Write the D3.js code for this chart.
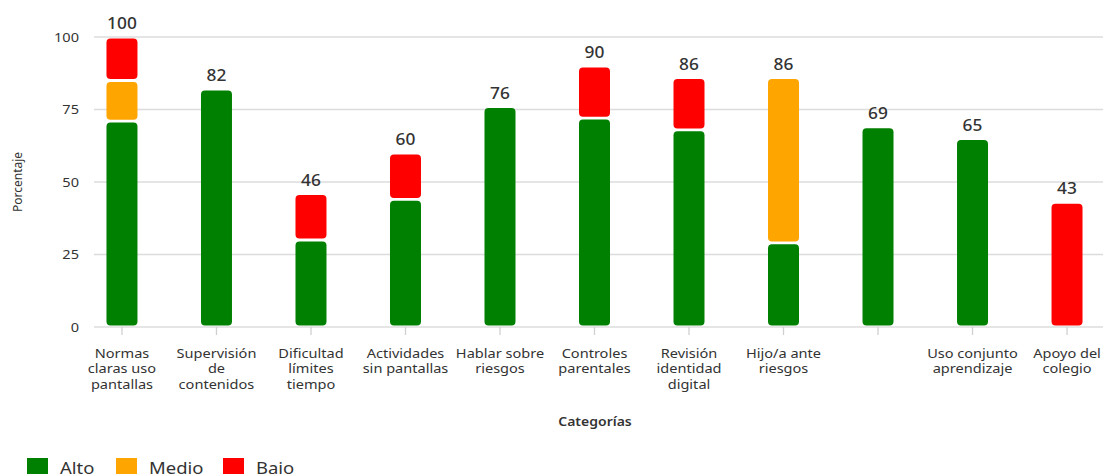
<!DOCTYPE html>
<html>
<head>
<meta charset="utf-8">
<script src="https://cdn.jsdelivr.net/npm/d3@7"></script>
<style>
  html, body { margin: 0; padding: 0; background: #fff; overflow: hidden; }
  svg { display: block; font-family: "Noto Sans", "Open Sans", sans-serif; }
</style>
</head>
<body>
<svg id="chart" width="1103" height="474"></svg>
<script>
const categories = [
  ["Normas", "claras uso", "pantallas"],
  ["Supervisión", "de", "contenidos"],
  ["Dificultad", "límites", "tiempo"],
  ["Actividades", "sin pantallas"],
  ["Hablar sobre", "riesgos"],
  ["Controles", "parentales"],
  ["Revisión", "identidad", "digital"],
  ["Hijo/a ante", "riesgos"],
  [""],
  ["Uso conjunto", "aprendizaje"],
  ["Apoyo del", "colegio"]
];
const alto  = [71, 82, 30, 44, 76, 72, 68, 29, 69, 65, 0];
const medio = [14, 0, 0, 0, 0, 0, 0, 57, 0, 0, 0];
const bajo  = [15, 0, 16, 16, 0, 18, 18, 0, 0, 0, 43];
const seriesNames = ["Alto", "Medio", "Bajo"];
const seriesColors = ["#008000", "#FFA500", "#FF0000"];
const yTicks = [0, 25, 50, 75, 100];

const W = 1103, H = 474;
const svg = d3.select("#chart");
const plotLeft = 94, plotRight = 1103;
const sx = 1.12; // horizontal stretch of text, as in the reference

const rows = categories.map((c, i) => ({ key: i, Alto: alto[i], Medio: medio[i], Bajo: bajo[i] }));
const stack = d3.stack().keys(seriesNames)(rows);

const x = d3.scaleBand()
  .domain(d3.range(categories.length))
  .range([plotLeft, 1095])
  .paddingInner(0.672)
  .paddingOuter(0.132);
const y = d3.scaleLinear().domain([0, 100]).range([327, 37]);

// gridlines
svg.append("g").selectAll("line").data(yTicks).join("line")
  .attr("x1", plotLeft).attr("x2", plotRight)
  .attr("y1", d => y(d)).attr("y2", d => y(d))
  .attr("stroke", "#dcdcdc").attr("stroke-width", 1.3);

// y axis labels
const yAxis = svg.append("g").attr("transform", `translate(${plotLeft},0)`)
  .call(d3.axisLeft(y).tickValues(yTicks).tickSize(0).tickPadding(15));
yAxis.select(".domain").remove();
yAxis.selectAll(".tick text").attr("font-size", 13).attr("fill", "#333")
  .attr("font-family", "Noto Sans, sans-serif")
  .attr("transform", function() { return `scale(${sx},1)`; })
  .attr("x", -15 / sx);

// x axis ticks
const xAxis = svg.append("g").attr("transform", `translate(0,${y(0)})`)
  .call(d3.axisBottom(x).tickSize(8).tickFormat(""));
xAxis.select(".domain").remove();
xAxis.selectAll("line").attr("stroke", "#d0d0d0").attr("stroke-width", 1.3);

// category labels
const catG = svg.append("g");
categories.forEach((lines, i) => {
  const cx = x(i) + x.bandwidth() / 2;
  const g = catG.append("g").attr("transform", `translate(${cx},358) scale(${sx},1)`);
  const t = g.append("text")
    .attr("x", 0).attr("y", 0)
    .attr("text-anchor", "middle")
    .attr("font-size", 13).attr("fill", "#333");
  lines.forEach((ln, j) => {
    t.append("tspan").attr("x", 0)
      .attr("dy", j === 0 ? 0 : 15.5).text(ln);
  });
});

// bars
const inset = 1.4;
stack.forEach((s, si) => {
  svg.append("g").selectAll("rect").data(s.filter(d => d[1] - d[0] > 0)).join("rect")
    .attr("x", d => x(d.data.key))
    .attr("width", x.bandwidth())
    .attr("y", d => y(d[1]) + inset)
    .attr("height", d => Math.max(0, y(d[0]) - y(d[1]) - 2 * inset))
    .attr("rx", 4).attr("ry", 4)
    .attr("fill", seriesColors[si]);
});

// totals
svg.append("g").selectAll("g").data(rows).join("g")
  .attr("transform", d => `translate(${x(d.key) + x.bandwidth() / 2},${y(d.Alto + d.Medio + d.Bajo) - 8}) scale(1.05,1)`)
  .append("text")
  .attr("text-anchor", "middle")
  .attr("font-size", 16.5).attr("font-weight", 500).attr("fill", "#333")
  .text(d => d.Alto + d.Medio + d.Bajo);

// axis titles
svg.append("text")
  .attr("transform", `translate(22,182) rotate(-90)`)
  .attr("text-anchor", "middle").attr("font-size", 12).attr("fill", "#333")
  .text("Porcentaje");
svg.append("g").attr("transform", `translate(595,426) scale(${sx},1)`)
  .append("text")
  .attr("text-anchor", "middle").attr("font-size", 12.5).attr("font-weight", 600).attr("fill", "#333")
  .text("Categorías");

// legend
const legendX = [27, 116, 223];
const lg = svg.append("g");
seriesNames.forEach((n, i) => {
  lg.append("rect").attr("x", legendX[i]).attr("y", 458).attr("width", 21).attr("height", 21)
    .attr("fill", seriesColors[i]);
  lg.append("g").attr("transform", `translate(${legendX[i] + 33},474) scale(${sx},1)`)
    .append("text")
    .attr("font-size", 16.5).attr("fill", "#333").text(n);
});
</script>
</body>
</html>
